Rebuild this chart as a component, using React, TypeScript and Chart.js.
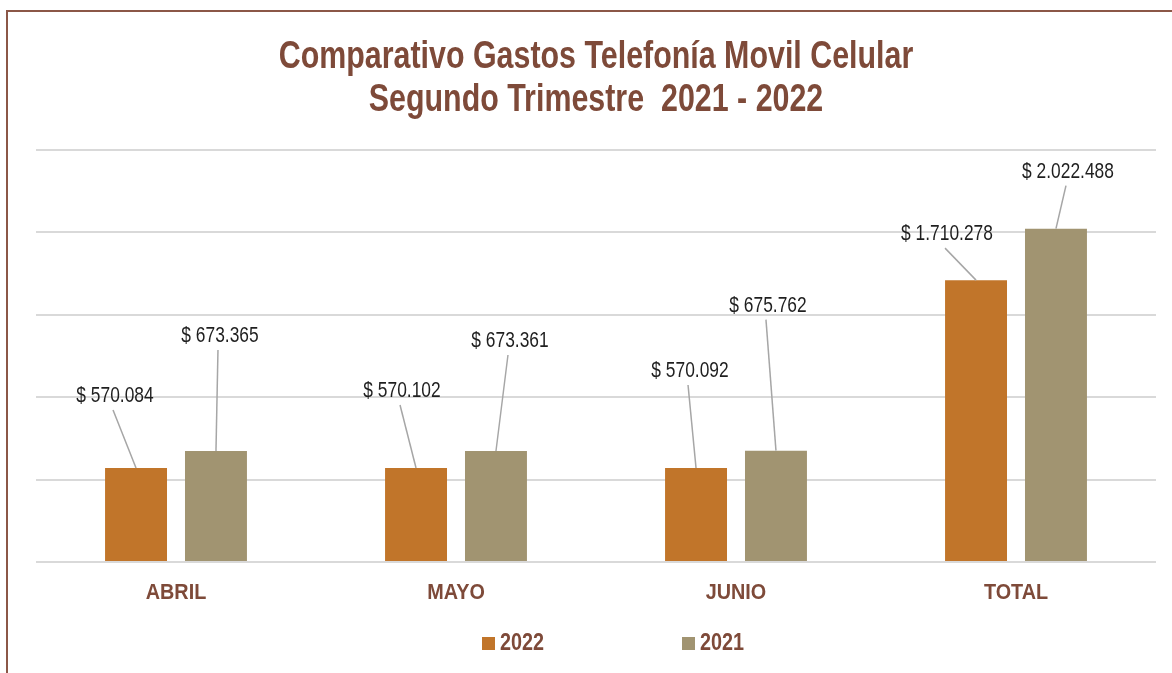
import { useEffect, useRef } from "react";
import { Chart, registerables } from "chart.js";

Chart.register(...registerables);

const CATEGORIES = ["ABRIL", "MAYO", "JUNIO", "TOTAL"];
const SERIES_LABELS = ["2022", "2021"];
const VALUES_2022 = [570084, 570102, 570092, 1710278];
const VALUES_2021 = [673365, 673361, 675762, 2022488];
const Y_TICKS = [0, 500000, 1000000, 1500000, 2000000, 2500000];
const TITLE_LINES = ["Comparativo Gastos Telefonía Movil Celular", "Segundo Trimestre  2021 - 2022"];

// label placement (px offsets from bar top-centre), styling only
const LABEL_OFFSETS = [
  [[-21, -74], [-14, -79], [-6, -99], [-29, -48]],
  [[4, -117], [14, -112], [-8, -147], [12, -59]],
];

const COLORS = ["#C1752A", "#A19471"];
const BROWN = "#7E4A39";
const FONT = "'Liberation Sans', Arial, sans-serif";

function fmt(v: number): string {
  const s = Math.round(v).toString();
  let out = "";
  for (let i = 0; i < s.length; i++) {
    if (i > 0 && (s.length - i) % 3 === 0) out += ".";
    out += s[i];
  }
  return "$ " + out;
}

// draws horizontally condensed text (emulates a narrow face)
function narrowText(ctx: any, text: string, x: number, y: number, font: string, sx: number, color: string, align: string, baseline: string) {
  ctx.save();
  ctx.translate(x, y);
  ctx.scale(sx, 1);
  ctx.font = font;
  ctx.fillStyle = color;
  ctx.textAlign = align;
  ctx.textBaseline = baseline;
  ctx.fillText(text, 0, 0);
  ctx.restore();
}

const textPlugin = {
  id: "narrowTexts",
  afterDraw(chart: any) {
    const ctx = chart.ctx;
    const ca = chart.chartArea;
    const cx = (ca.left + ca.right) / 2;
    // title
    const titleFont = `bold 38px ${FONT}`;
    TITLE_LINES.forEach((line, i) => {
      narrowText(ctx, line, cx, 68 + i * 43, titleFont, 0.8, BROWN, "center", "alphabetic");
    });
    // category labels
    const xs = chart.scales.x;
    CATEGORIES.forEach((c, i) => {
      narrowText(ctx, c, xs.getPixelForTick(i), 599, `bold 22px ${FONT}`, 0.9, BROWN, "center", "alphabetic");
    });
    // legend
    chart.data.datasets.forEach((ds: any, i: number) => {
      const x = cx - 114 + i * 200;
      ctx.fillStyle = ds.backgroundColor;
      ctx.fillRect(x, 637, 13, 13);
      narrowText(ctx, ds.label, x + 18, 650, `bold 23px ${FONT}`, 0.86, BROWN, "left", "alphabetic");
    });
  },
  afterDatasetsDraw(chart: any) {
    const ctx = chart.ctx;
    chart.data.datasets.forEach((ds: any, i: number) => {
      const meta = chart.getDatasetMeta(i);
      meta.data.forEach((bar: any, j: number) => {
        const [dx, dy] = LABEL_OFFSETS[i][j];
        const lx = bar.x + dx;
        const ly = bar.y + dy;
        ctx.save();
        ctx.strokeStyle = "#A6A6A6";
        ctx.lineWidth = 1.5;
        ctx.beginPath();
        ctx.moveTo(lx - 2, ly + 16);
        ctx.lineTo(bar.x, bar.y);
        ctx.stroke();
        ctx.restore();
        narrowText(ctx, fmt(ds.data[j]), lx, ly + 8, `22px ${FONT}`, 0.79, "#1F1F1F", "center", "alphabetic");
      });
    });
  },
};

export default function App() {
  const ref = useRef<HTMLCanvasElement>(null);
  useEffect(() => {
    if (!ref.current) return;
    const chart = new Chart(ref.current, {
      type: "bar",
      data: {
        labels: CATEGORIES,
        datasets: [
          { label: SERIES_LABELS[0], data: VALUES_2022, backgroundColor: COLORS[0], barPercentage: 0.775, categoryPercentage: 0.571 },
          { label: SERIES_LABELS[1], data: VALUES_2021, backgroundColor: COLORS[1], barPercentage: 0.775, categoryPercentage: 0.571 },
        ],
      },
      options: {
        responsive: false,
        animation: false,
        layout: { padding: { left: 36, right: 16, top: 150, bottom: 111 } },
        plugins: {
          legend: { display: false },
          tooltip: { enabled: false },
          title: { display: false },
        },
        scales: {
          x: {
            grid: { display: false, drawTicks: false },
            border: { display: false },
            ticks: { display: false },
          },
          y: {
            min: Y_TICKS[0],
            max: Y_TICKS[Y_TICKS.length - 1],
            afterBuildTicks: (axis: any) => {
              axis.ticks = Y_TICKS.map((v) => ({ value: v }));
            },
            grid: { color: "#D9D9D9", lineWidth: 2, drawTicks: false },
            border: { display: false },
            ticks: { display: false },
          },
        },
      },
      plugins: [textPlugin],
    });
    return () => chart.destroy();
  }, []);

  return (
    <>
      <div style={{ position: "fixed", left: 0, top: 0, width: 1172, height: 673, background: "#fff" }}>
        <canvas ref={ref} width={1172} height={673} style={{ display: "block" }} />
      </div>
      <div
        style={{
          position: "fixed",
          left: 6,
          top: 10,
          width: 1300,
          height: 800,
          borderLeft: "2px solid #8B5747",
          borderTop: "2px solid #8B5747",
          pointerEvents: "none",
        }}
      />
    </>
  );
}
